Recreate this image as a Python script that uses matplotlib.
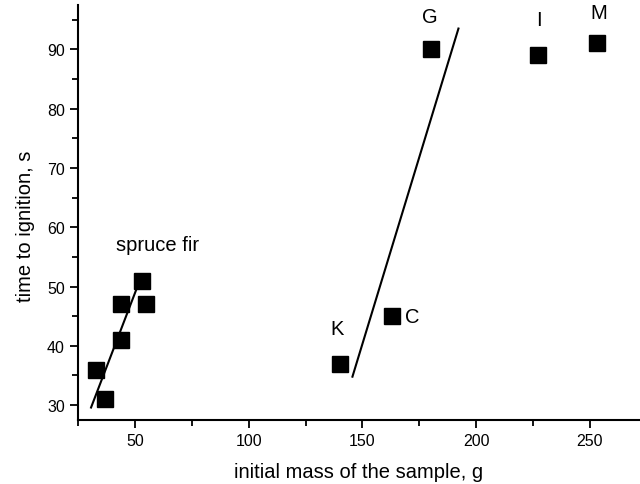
import numpy as np
import matplotlib
matplotlib.use('Agg')
import matplotlib.pyplot as plt
from matplotlib.ticker import MultipleLocator

plt.rcParams['font.family'] = ['Liberation Sans', 'DejaVu Sans']

# data
spruce_x = [33, 37, 44, 44, 53, 55]
spruce_y = [36, 31, 47, 41, 51, 47]
other_names = ['K', 'C', 'G', 'I', 'M']
other_x = [140, 163, 180, 227, 253]
other_y = [37, 45, 90, 89, 91]

# fit lines (endpoints)
fit1_x = [30.7, 50.9]
fit1_y = [29.6, 49.8]
fit2_x = [145.6, 192.2]
fit2_y = [34.8, 93.5]

# label positions
label_x = [139, 168.5, 179.6, 227.5, 253.7]
label_y = [43, 45, 95.6, 95.0, 96.2]

fig = plt.figure(figsize=(6.4, 4.85), dpi=100)
ax = fig.add_axes([0.122, 0.132, 0.878, 0.856])

ax.plot(spruce_x, spruce_y, 's', color='black', markersize=11.5)
ax.plot(other_x, other_y, 's', color='black', markersize=11.5)
ax.plot(fit1_x, fit1_y, color='black', lw=1.5)
ax.plot(fit2_x, fit2_y, color='black', lw=1.5)

for n, x, y in zip(other_names, label_x, label_y):
    ha = 'left' if n == 'C' else 'center'
    ax.text(x, y, n, fontsize=14.5, ha=ha, va='center')
ax.text(41.5, 57.1, 'spruce fir', fontsize=14.5, ha='left', va='center')

ax.set_xlim(25, 272)
ax.set_ylim(27.5, 97.5)
ax.xaxis.set_major_locator(MultipleLocator(50))
ax.xaxis.set_minor_locator(MultipleLocator(25))
ax.yaxis.set_major_locator(MultipleLocator(10))
ax.yaxis.set_minor_locator(MultipleLocator(5))
ax.tick_params(which='both', direction='out', width=1.3, labelsize=11.5)
ax.tick_params(which='major', length=6)
ax.tick_params(which='minor', length=4)
ax.spines['top'].set_visible(False)
ax.spines['right'].set_visible(False)
ax.spines['left'].set_linewidth(1.5)
ax.spines['bottom'].set_linewidth(1.5)

ax.set_xlabel('initial mass of the sample, g', fontsize=14.5, labelpad=10)
ax.set_ylabel('time to ignition, s', fontsize=14.5, va='center')
ax.yaxis.set_label_coords(-0.094, 0.468)

fig.savefig('out.png', dpi=100)
